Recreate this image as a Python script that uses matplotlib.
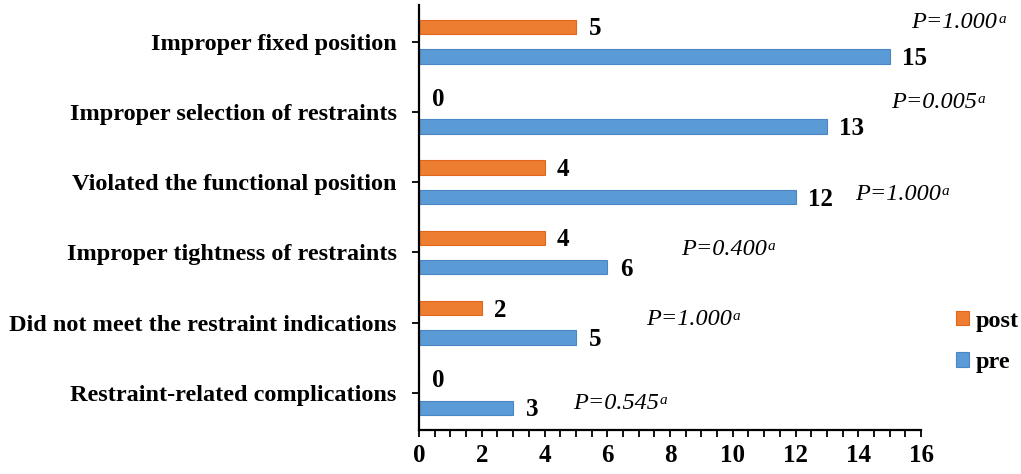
import matplotlib
matplotlib.use("Agg")
import matplotlib.pyplot as plt
from matplotlib.ticker import MultipleLocator

# data (top to bottom, as in the chart)
categories = [
    "Improper fixed position",
    "Improper selection of restraints",
    "Violated the functional position",
    "Improper tightness of restraints",
    "Did not meet the restraint indications",
    "Restraint-related complications",
]
pre = [15, 13, 12, 6, 5, 3]
post = [5, 0, 4, 4, 2, 0]
p_values = ["1.000", "0.005", "1.000", "0.400", "1.000", "0.545"]

# where the p-value notes sit (x in data units, y offset from group centre)
p_x = [15.7, 15.05, 13.9, 8.36, 7.25, 4.9]
p_dy = [0.265, 0.13, -0.174, 0.045, 0.053, -0.153]

BLUE = "#5B9BD5"
BLUE_EDGE = "#4A86C5"
ORANGE = "#ED7D31"
ORANGE_EDGE = "#E0661A"
SERIF = "Liberation Serif"

plt.rcParams["font.family"] = SERIF

fig = plt.figure(figsize=(10.21, 4.74), dpi=100)
ax = fig.add_axes([419 / 1021, 1 - 430 / 474, (921 - 419) / 1021, (430 - 5) / 474])

n = len(categories)
ypos = [n - 1 - i for i in range(n)]
bar_h = 0.205
off = 0.21

b_pre = ax.barh([y - off for y in ypos], pre, height=bar_h, color=BLUE,
                edgecolor=BLUE_EDGE, linewidth=0.8, label="pre")
b_post = ax.barh([y + off for y in ypos], post, height=bar_h, color=ORANGE,
                 edgecolor=ORANGE_EDGE, linewidth=0.8, label="post")

for bars, vals in ((b_pre, pre), (b_post, post)):
    for rect, v in zip(bars, vals):
        yc = rect.get_y() + rect.get_height() / 2
        ax.annotate(str(v), xy=(v, yc), xytext=(9, -1.5), textcoords="offset points",
                    ha="left", va="center", fontsize=18, fontweight="bold", family=SERIF)

for y, px, dy, pv in zip(ypos, p_x, p_dy, p_values):
    t = ax.text(px, y + dy, "P=" + pv, ha="left", va="center", fontsize=17.5,
                fontstyle="italic", family=SERIF)
    ax.annotate("a", xy=(1, 0.95), xycoords=t, xytext=(0.5, 0), textcoords="offset points",
                ha="left", va="top", fontsize=11, fontstyle="italic", family=SERIF)

ax.set_xlim(0, 16)
ax.set_ylim(-0.525, n - 1 + 0.52)
ax.set_yticks(ypos)
ax.set_yticklabels(categories, fontsize=17.5, fontweight="bold")
ax.xaxis.set_major_locator(MultipleLocator(2))
ax.xaxis.set_minor_locator(MultipleLocator(0.5))
for lbl in ax.get_xticklabels():
    lbl.set_fontweight("bold")
ax.tick_params(axis="x", which="both", direction="out", length=5, width=1.3,
               labelsize=18, pad=5)
ax.tick_params(axis="y", direction="out", length=5, width=1.3, pad=11)

for side in ("top", "right"):
    ax.spines[side].set_visible(False)
for side in ("left", "bottom"):
    ax.spines[side].set_linewidth(1.6)

leg = ax.legend(handles=[b_post, b_pre], labels=["post", "pre"], loc="center left",
                bbox_to_anchor=(956 / 1021, 1 - 342 / 474), bbox_transform=fig.transFigure,
                frameon=False, borderaxespad=0, borderpad=0, handlelength=0.55,
                handleheight=0.55, handletextpad=0.25, labelspacing=0.85,
                prop={"family": SERIF, "weight": "bold", "size": 17.5})

fig.savefig("out.png", dpi=100)
